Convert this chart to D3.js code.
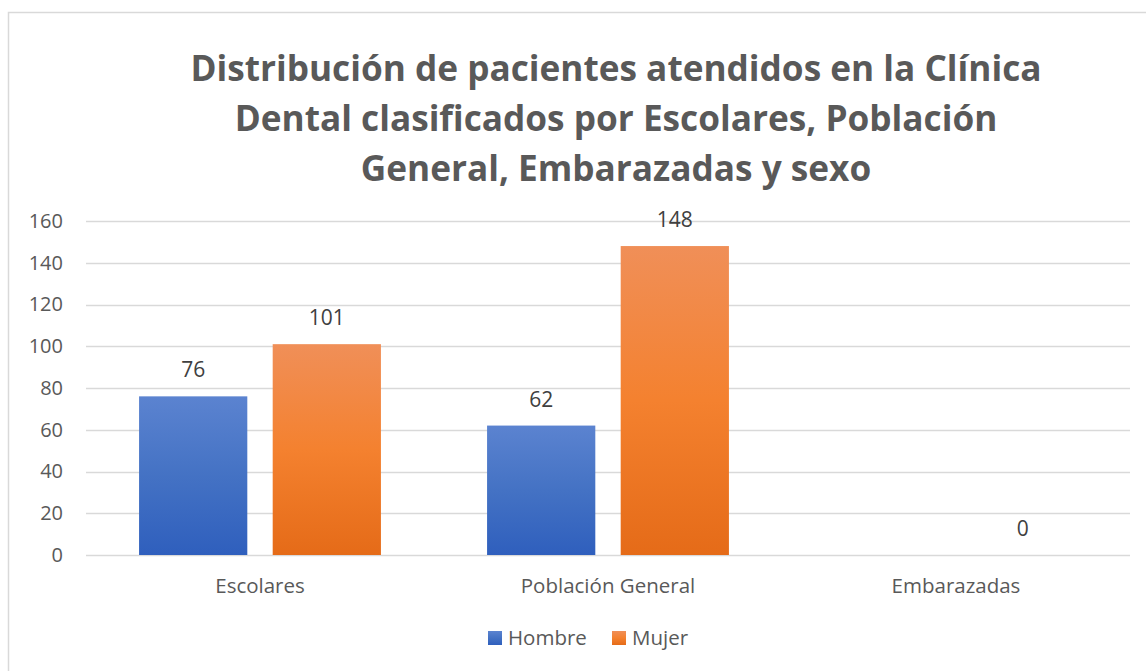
<!DOCTYPE html>
<html>
<head>
<meta charset="utf-8">
<script src="https://cdn.jsdelivr.net/npm/d3@7"></script>
<style>
  body { margin: 0; background: #fff; }
  svg { display: block; }
</style>
</head>
<body>
<svg id="chart" width="1146" height="671"></svg>
<script>
// data
const categories = ['Escolares', 'Población General', 'Embarazadas'];
const series = ['Hombre', 'Mujer'];
const hombre = [76, 62, null];
const mujer = [101, 148, 0];
const yTicks = [0, 20, 40, 60, 80, 100, 120, 140, 160];
const titleLines = [
  'Distribución de pacientes atendidos en la Clínica',
  'Dental clasificados por Escolares, Población',
  'General, Embarazadas y sexo'
];

const rows = categories.map((c, i) => ({ cat: c, Hombre: hombre[i], Mujer: mujer[i] }));

const width = 1146, height = 671;
const font = '"Open Sans", sans-serif';
const svg = d3.select('#chart');

// gradients for bars
const defs = svg.append('defs');
const grads = {
  Hombre: ['#5b83d0', '#4472c4', '#2f5fbd'],
  Mujer: ['#f08f58', '#f4812f', '#e56b18']
};
Object.entries(grads).forEach(([k, cols]) => {
  const g = defs.append('linearGradient')
    .attr('id', 'grad-' + k)
    .attr('x1', 0).attr('y1', 0).attr('x2', 0).attr('y2', 1);
  g.append('stop').attr('offset', '0%').attr('stop-color', cols[0]);
  g.append('stop').attr('offset', '50%').attr('stop-color', cols[1]);
  g.append('stop').attr('offset', '100%').attr('stop-color', cols[2]);
});

// chart frame
svg.append('rect')
  .attr('x', 8.5).attr('y', 12.5)
  .attr('width', 1150).attr('height', 680)
  .attr('fill', '#fff')
  .attr('stroke', '#d9d9d9')
  .attr('stroke-width', 1.5);

// title
svg.append('g')
  .selectAll('text')
  .data(titleLines)
  .join('text')
    .attr('x', 616)
    .attr('y', (d, i) => 81 + i * 50)
    .attr('text-anchor', 'middle')
    .attr('font-family', font)
    .attr('font-weight', 'bold')
    .attr('font-size', 35.2)
    .attr('fill', '#595959')
    .text(d => d);

const plot = { left: 86, right: 1130, top: 221, bottom: 555 };

const x0 = d3.scaleBand()
  .domain(categories)
  .range([plot.left, plot.right])
  .paddingInner(0.305)
  .paddingOuter(0.1525);

const x1 = d3.scaleBand()
  .domain(series)
  .range([0, x0.bandwidth()])
  .paddingInner(0.19);

const y = d3.scaleLinear()
  .domain([0, 160])
  .range([plot.bottom, plot.top]);

// gridlines
svg.append('g')
  .attr('stroke', '#d9d9d9')
  .attr('stroke-width', 1.3)
  .selectAll('line')
  .data(yTicks)
  .join('line')
    .attr('x1', plot.left)
    .attr('x2', plot.right)
    .attr('y1', d => Math.round(y(d)) + 0.5)
    .attr('y2', d => Math.round(y(d)) + 0.5);

// y axis
const yAxis = svg.append('g')
  .attr('transform', `translate(${plot.left - 23},0)`)
  .call(d3.axisLeft(y).tickValues(yTicks).tickSize(0).tickPadding(0));
yAxis.select('.domain').remove();
yAxis.selectAll('text')
  .attr('font-family', font)
  .attr('font-size', 20)
  .attr('fill', '#595959');

// x axis
const xAxis = svg.append('g')
  .attr('transform', `translate(0,${plot.bottom + 23})`)
  .call(d3.axisBottom(x0).tickSize(0).tickPadding(0));
xAxis.select('.domain').remove();
xAxis.selectAll('text')
  .attr('font-family', font)
  .attr('font-size', 20.5)
  .attr('fill', '#595959');

// bars
const groups = svg.append('g')
  .selectAll('g')
  .data(rows)
  .join('g')
    .attr('transform', d => `translate(${x0(d.cat)},0)`);

const cells = groups.selectAll('g')
  .data(d => series.map(s => ({ key: s, value: d[s] })).filter(e => e.value !== null))
  .join('g');

cells.append('rect')
  .attr('x', d => x1(d.key))
  .attr('width', x1.bandwidth())
  .attr('y', d => y(d.value))
  .attr('height', d => y(0) - y(d.value))
  .attr('fill', d => `url(#grad-${d.key})`);

cells.append('text')
  .attr('x', d => x1(d.key) + x1.bandwidth() / 2)
  .attr('y', d => y(d.value) - 19)
  .attr('text-anchor', 'middle')
  .attr('font-family', font)
  .attr('font-size', 21)
  .attr('fill', '#404040')
  .text(d => d.value);

// legend
const legend = svg.append('g')
  .attr('transform', 'translate(488,638)');
const legendPos = [0, 124];
series.forEach((s, i) => {
  const g = legend.append('g').attr('transform', `translate(${legendPos[i]},0)`);
  g.append('rect')
    .attr('x', 0).attr('y', -7)
    .attr('width', 14).attr('height', 14)
    .attr('fill', `url(#grad-${s})`);
  g.append('text')
    .attr('x', 20).attr('y', 0)
    .attr('dy', '0.35em')
    .attr('font-family', font)
    .attr('font-size', 20.5)
    .attr('fill', '#595959')
    .text(s);
});
</script>
</body>
</html>
